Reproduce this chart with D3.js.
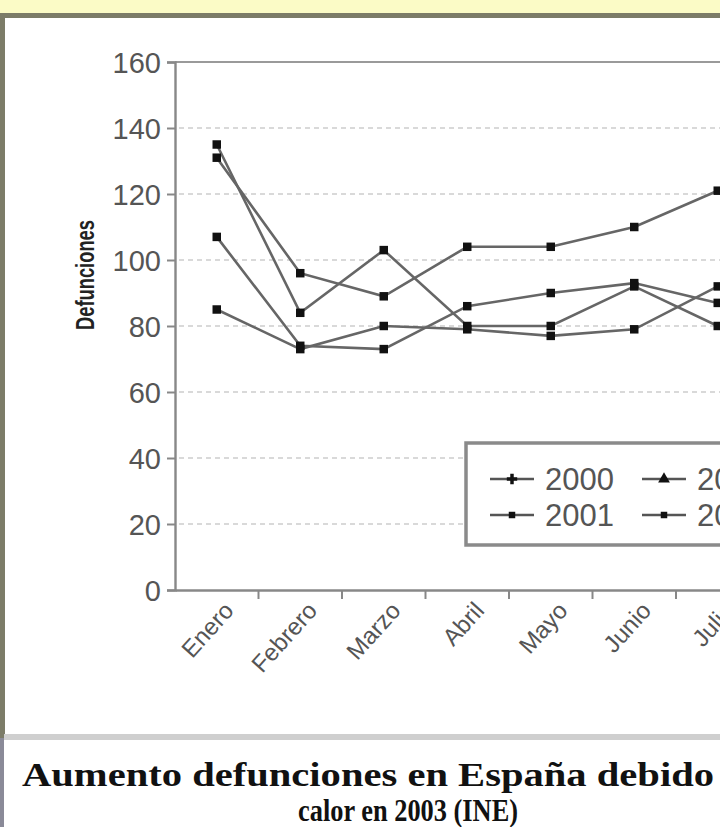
<!DOCTYPE html>
<html><head><meta charset="utf-8">
<script src="https://cdn.jsdelivr.net/npm/d3@7"></script>
<style>
html,body{margin:0;padding:0;background:#fff;overflow:hidden;}
svg{display:block;}
</style></head>
<body>
<svg id="chart" width="720" height="827"></svg>
<script>
// ---- data ----
const months = ["Enero","Febrero","Marzo","Abril","Mayo","Junio","Julio"];
const years = ["2000","2001","2002","2003"];
const s2000 = [135, 84, 103, 80, 80, 92, 80];
const s2001 = [107, 74, 73, 86, 90, 93, 87];
const s2002 = [85, 73, 80, 79, 77, 79, 92];
const s2003 = [131, 96, 89, 104, 104, 110, 121];
const yTicks = [0,20,40,60,80,100,120,140,160];
const yTitle = "Defunciones";
const caption1 = "Aumento defunciones en España debido";
const caption2 = "calor en 2003 (INE)";

(function(){
const seriesList = [
  {name: years[0], values: s2000, sym: d3.symbolCross},
  {name: years[1], values: s2001, sym: d3.symbolSquare},
  {name: years[2], values: s2002, sym: d3.symbolTriangle},
  {name: years[3], values: s2003, sym: d3.symbolSquare}
];

const svg = d3.select("#chart");
const W = 720, H = 827;
const sans = "Liberation Sans, Arial, sans-serif";
const serif = "Liberation Serif, Times New Roman, serif";

// frame / background
svg.append("rect").attr("x",0).attr("y",0).attr("width",W).attr("height",16).attr("fill","#fbfbc6");
svg.append("rect").attr("x",0).attr("y",13).attr("width",W).attr("height",5).attr("fill","#7c7c68");
svg.append("rect").attr("x",0).attr("y",13).attr("width",5).attr("height",725).attr("fill","#7c7c68");
svg.append("rect").attr("x",0).attr("y",738).attr("width",4).attr("height",H-738).attr("fill","#8a8a98");
svg.append("rect").attr("x",4).attr("y",734).attr("width",W-4).attr("height",6).attr("fill","#cfcfcf");

// scales
const pLeft = 175, pTop = 62, pBottom = 590;
const step = 83.5;
const x = d3.scaleBand().domain(months).range([pLeft, pLeft + step*months.length]).padding(0);
const y = d3.scaleLinear().domain([0,160]).range([pBottom, pTop]);

// gridlines
svg.append("g").selectAll("line").data(yTicks.filter(v => v > 0 && v < 160)).join("line")
  .attr("x1", pLeft+4).attr("x2", W).attr("y1", d => y(d)).attr("y2", d => y(d))
  .attr("stroke","#cdcdcd").attr("stroke-width",1.6).attr("stroke-dasharray","5,4");
// top border line
svg.append("line").attr("x1",pLeft).attr("x2",W).attr("y1",y(160)).attr("y2",y(160))
  .attr("stroke","#9a9a9a").attr("stroke-width",2);

// y axis
const yAxis = svg.append("g").attr("transform",`translate(${pLeft},0)`)
  .call(d3.axisLeft(y).tickValues(yTicks).tickSize(8).tickPadding(6));
yAxis.select(".domain").attr("stroke","#888").attr("stroke-width",2.4);
yAxis.selectAll(".tick line").attr("stroke","#888").attr("stroke-width",2);
yAxis.selectAll(".tick text").attr("fill","#555").style("font-family",sans)
  .style("font-size","29px").attr("dy","0.36em");

// x axis
const xAxis = svg.append("g").attr("transform",`translate(0,${pBottom})`)
  .call(d3.axisBottom(x).tickSize(0).tickFormat(""));
xAxis.select(".domain").attr("stroke","#888").attr("stroke-width",2.4);
xAxis.selectAll(".tick").remove();
svg.append("g").selectAll("line").data(months.slice(1)).join("line")
  .attr("x1", d => x(d)).attr("x2", d => x(d)).attr("y1", pBottom).attr("y2", pBottom+9)
  .attr("stroke","#888").attr("stroke-width",2);
svg.append("g").selectAll("text").data(months).join("text")
  .attr("transform", d => `translate(${x(d)+x.bandwidth()/2+12},${pBottom+16}) rotate(-48)`)
  .attr("text-anchor","end").attr("dy","0.35em")
  .attr("fill","#555").style("font-family",sans).style("font-size","24px")
  .text(d => d);

// y title
svg.append("text").attr("transform",`translate(94,275) rotate(-90)`)
  .attr("text-anchor","middle").attr("fill","#222")
  .style("font-family",sans).style("font-size","26px").style("font-weight","bold")
  .attr("textLength",110).attr("lengthAdjust","spacingAndGlyphs")
  .text(yTitle);

// lines
const line = d3.line().x((d,i) => x(months[i]) + x.bandwidth()/2).y(d => y(d));
const gS = svg.append("g");
seriesList.forEach(s => {
  gS.append("path").attr("d", line(s.values)).attr("fill","none")
    .attr("stroke","#666").attr("stroke-width",2.6);
});
seriesList.forEach(s => {
  gS.append("g").selectAll("path").data(s.values).join("path")
    .attr("transform",(d,i) => `translate(${x(months[i]) + x.bandwidth()/2},${y(d)})`)
    .attr("d", d3.symbol().type(d3.symbolSquare).size(72)).attr("fill","#111");
});

// legend
const lg = svg.append("g");
lg.append("rect").attr("x",466).attr("y",443).attr("width",300).attr("height",102)
  .attr("fill","#fff").attr("stroke","#8a8a8a").attr("stroke-width",3.5);
const colX = [490, 642], rowY = [479, 515];
seriesList.forEach((s,i) => {
  const cx = colX[Math.floor(i/2)], cy = rowY[i%2];
  lg.append("line").attr("x1",cx).attr("x2",cx+44).attr("y1",cy).attr("y2",cy)
    .attr("stroke","#555").attr("stroke-width",2.4);
  lg.append("path").attr("transform",`translate(${cx+22},${cy})`)
    .attr("d", d3.symbol().type(s.sym).size(s.sym===d3.symbolSquare?42:60)).attr("fill","#111");
  lg.append("text").attr("x",cx+55).attr("y",cy).attr("dy","0.36em")
    .attr("fill","#555").style("font-family",sans).style("font-size","31px")
    .text(s.name);
});

// caption
svg.append("text").attr("x",22).attr("y",786)
  .attr("fill","#111").style("font-family",serif)
  .style("font-size","34px").style("font-weight","bold")
  .attr("textLength",692).attr("lengthAdjust","spacingAndGlyphs")
  .text(caption1);
svg.append("text").attr("x",298).attr("y",821)
  .attr("fill","#111").style("font-family",serif)
  .style("font-size","32px").style("font-weight","bold")
  .attr("textLength",220).attr("lengthAdjust","spacingAndGlyphs")
  .text(caption2);
})();
</script>
</body></html>
